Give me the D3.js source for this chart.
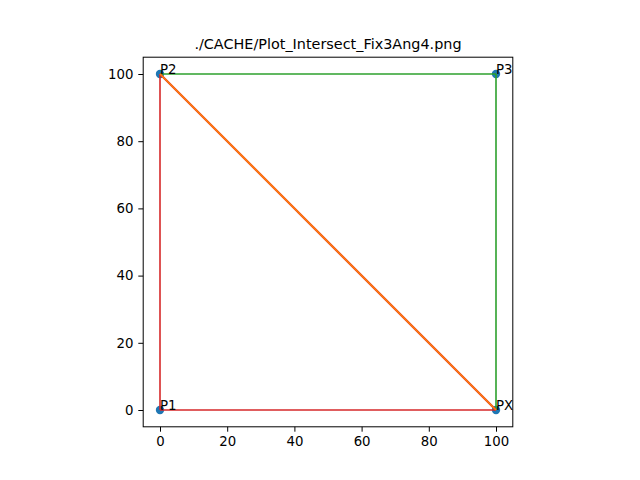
<!DOCTYPE html>
<html><head><meta charset="utf-8">
<script src="https://cdn.jsdelivr.net/npm/d3@7"></script>
<style>body{margin:0;background:#fff}text{font-family:"DejaVu Sans",sans-serif}</style>
</head><body><svg id="c" width="640" height="480"></svg>
<script>
const pointNames = ["P1", "P2", "P3", "PX"];
const pointX = [0, 0, 100, 100];
const pointY = [0, 100, 100, 0];
const segments = [
  {from: 0, to: 1, color: "#d62728"},
  {from: 3, to: 0, color: "#d62728"},
  {from: 1, to: 2, color: "#2ca02c"},
  {from: 2, to: 3, color: "#2ca02c"},
  {from: 1, to: 3, color: "#d62728"},
  {from: 1, to: 3, color: "#ff7f0e"}
];
const ticks = [0, 20, 40, 60, 80, 100];

const svg = d3.select("#c");
const x = d3.scaleLinear().domain([-5, 105]).range([143.2, 512.8]);
const y = d3.scaleLinear().domain([-5, 105]).range([426.8, 57.2]);

svg.append("text").attr("x", 328).attr("y", 49).attr("text-anchor", "middle")
  .attr("font-size", 14.4).text("./CACHE/Plot_Intersect_Fix3Ang4.png");

const xAxis = svg.append("g").attr("transform", "translate(0,426.8)")
  .call(d3.axisBottom(x).tickValues(ticks).tickSize(4.9).tickPadding(4.9));
const yAxis = svg.append("g").attr("transform", "translate(143.2,0)")
  .call(d3.axisLeft(y).tickValues(ticks).tickSize(4.9).tickPadding(4.9));
[xAxis, yAxis].forEach(a => {
  a.select(".domain").remove();
  a.selectAll("text").attr("font-size", 13.3).attr("font-family", "DejaVu Sans").attr("fill", "#000");
  a.selectAll("line").attr("stroke", "#000").attr("stroke-width", 1);
});

svg.append("rect").attr("x", 143.2).attr("y", 57.2).attr("width", 369.6).attr("height", 369.6)
  .attr("fill", "none").attr("stroke", "#000").attr("stroke-width", 1);

svg.selectAll("circle.pt").data(pointX).enter().append("circle")
  .attr("cx", (d, i) => x(pointX[i])).attr("cy", (d, i) => y(pointY[i]))
  .attr("r", 4.2).attr("fill", "#1f77b4");

svg.selectAll("line.seg").data(segments).enter().append("line")
  .attr("x1", d => x(pointX[d.from])).attr("y1", d => y(pointY[d.from]))
  .attr("x2", d => x(pointX[d.to])).attr("y2", d => y(pointY[d.to]))
  .attr("stroke", d => d.color).attr("stroke-width", (d, i) => i === 4 ? 2.2 : 1.6);

svg.selectAll("text.lbl").data(pointNames).enter().append("text")
  .attr("x", (d, i) => x(pointX[i])).attr("y", (d, i) => y(pointY[i]))
  .attr("font-size", 13.3).text(d => d);
</script></body></html>
